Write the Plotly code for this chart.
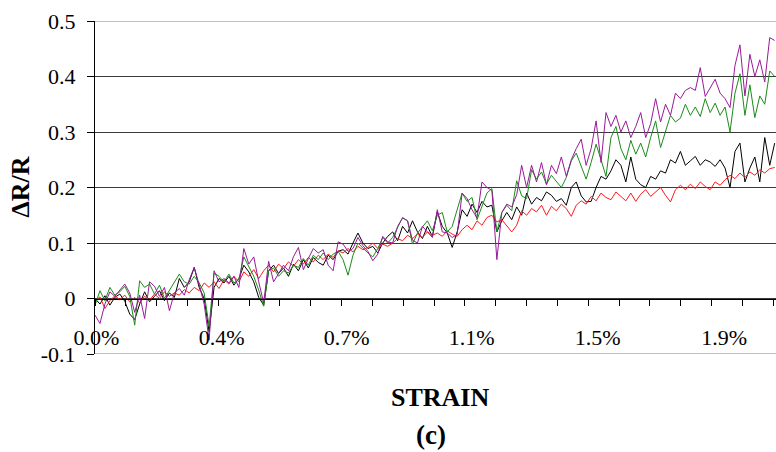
import plotly.graph_objects as go

# strain (%), one reading every 0.015 %
STEP = 0.015
N_PTS = 138
strain = [round(STEP * i, 4) for i in range(N_PTS)]

black = [0.0, -0.01, 0.005, -0.012, 0.002, 0.008, -0.005, -0.028, -0.038, -0.01,
         0.012, -0.006, 0.004, 0.014, -0.004, 0.01, 0.002, 0.036, 0.02, 0.03,
         0.056, 0.02, 0.0, -0.06, 0.02, 0.036, 0.028, 0.04, 0.024, 0.036,
         0.06, 0.048, 0.03, 0.002, -0.012, 0.05, 0.06, 0.045, 0.055, 0.04,
         0.062, 0.05, 0.07, 0.055, 0.074, 0.065, 0.06, 0.078, 0.07, 0.085,
         0.088, 0.08, 0.1, 0.118, 0.1, 0.09, 0.094, 0.082, 0.1, 0.112,
         0.12, 0.104, 0.13, 0.118, 0.14, 0.12, 0.108, 0.13, 0.112, 0.156,
         0.13, 0.118, 0.092, 0.12, 0.16, 0.148, 0.17, 0.155, 0.175, 0.165,
         0.168, 0.12, 0.14, 0.155, 0.142, 0.165, 0.15, 0.19, 0.17, 0.182,
         0.176, 0.192, 0.186, 0.175, 0.18, 0.168, 0.2, 0.21, 0.185, 0.174,
         0.175, 0.2, 0.22, 0.215, 0.23, 0.25, 0.24, 0.21, 0.255, 0.215,
         0.205, 0.2, 0.22, 0.215, 0.23, 0.226, 0.25, 0.244, 0.265, 0.24,
         0.248, 0.256, 0.24, 0.25, 0.246, 0.238, 0.25, 0.235, 0.2, 0.265,
         0.28, 0.21, 0.235, 0.255, 0.21, 0.29, 0.24, 0.28]

red = [-0.005, 0.003, -0.018, -0.004, 0.005, -0.002, 0.006, -0.006, 0.002, -0.008,
       0.004, -0.003, 0.008, 0.0, 0.012, 0.004, 0.01, 0.006, 0.016, 0.01,
       0.02, 0.014, 0.028, 0.02, 0.03, 0.018, 0.034, 0.026, 0.04, 0.03,
       0.048, 0.04, 0.052, 0.036, 0.05, 0.06, 0.048, 0.062, 0.054, 0.066,
       0.058, 0.07, 0.062, 0.074, 0.066, 0.078, 0.07, 0.08, 0.074, 0.086,
       0.082, 0.09, 0.084, 0.094, 0.088, 0.092, 0.1, 0.09, 0.098, 0.094,
       0.1, 0.108, 0.104, 0.114, 0.108, 0.116, 0.11, 0.12, 0.114, 0.118,
       0.112, 0.122, 0.116, 0.112, 0.124, 0.132, 0.124, 0.14, 0.132, 0.146,
       0.15, 0.138, 0.142, 0.13, 0.12, 0.132, 0.158, 0.15, 0.162, 0.156,
       0.168, 0.15, 0.166, 0.158, 0.17, 0.162, 0.148, 0.168, 0.176, 0.17,
       0.184, 0.176, 0.19, 0.182, 0.178, 0.192, 0.184, 0.176, 0.19, 0.175,
       0.188, 0.196, 0.184, 0.192, 0.2, 0.186, 0.174, 0.196, 0.204, 0.196,
       0.206, 0.198, 0.21, 0.202, 0.196, 0.21, 0.204, 0.214, 0.222, 0.216,
       0.226, 0.218, 0.228, 0.222, 0.232, 0.226, 0.234, 0.236]

green = [-0.012, 0.014, -0.004, 0.02, 0.006, 0.012, 0.022, 0.004, -0.048, 0.032,
         0.02, 0.026, 0.008, 0.024, 0.0, 0.014, 0.028, 0.044, 0.03, 0.026,
         0.04, 0.028, 0.01, -0.05, 0.046, 0.04, 0.03, 0.044, 0.028, 0.034,
         0.075, 0.056, 0.04, 0.015, -0.014, 0.05, 0.055, 0.04, 0.05, 0.046,
         0.06, 0.056, 0.072, 0.06, 0.078, 0.07, 0.082, 0.07, 0.08, 0.085,
         0.07, 0.042, 0.078, 0.1, 0.09, 0.082, 0.075, 0.09, 0.11, 0.1,
         0.11, 0.128, 0.146, 0.14, 0.098, 0.118, 0.13, 0.14, 0.122, 0.15,
         0.155, 0.12, 0.13, 0.16, 0.19, 0.175, 0.182, 0.142, 0.165, 0.19,
         0.198, 0.12, 0.155, 0.168, 0.158, 0.212, 0.185, 0.18, 0.232, 0.215,
         0.228, 0.206, 0.222, 0.21, 0.2, 0.218, 0.248, 0.262, 0.238, 0.215,
         0.245, 0.278, 0.25, 0.22, 0.29, 0.31, 0.27, 0.25, 0.285, 0.26,
         0.28, 0.255, 0.29, 0.32, 0.272, 0.3, 0.33, 0.318, 0.325, 0.35,
         0.33, 0.345, 0.328, 0.36, 0.335, 0.352, 0.33, 0.345, 0.3, 0.37,
         0.405, 0.33, 0.385, 0.326, 0.365, 0.35, 0.41, 0.4]

purple = [-0.03, -0.045, -0.01, 0.012, 0.004, 0.016, 0.026, 0.01, -0.025, 0.006,
          -0.036, 0.03, 0.022, 0.004, 0.02, -0.022, 0.01, 0.018, 0.006, 0.034,
          0.056, 0.025, -0.01, -0.075, 0.05, 0.03, 0.036, 0.028, 0.04, 0.02,
          0.09, 0.062, 0.075, 0.03, -0.008, 0.067, 0.03, 0.045, 0.06, 0.05,
          0.075, 0.092, 0.052, 0.072, 0.09, 0.082, 0.088, 0.06, 0.05, 0.102,
          0.098, 0.085, 0.09, 0.11, 0.095, 0.085, 0.068, 0.08, 0.112, 0.102,
          0.1, 0.13, 0.145, 0.14, 0.105, 0.1, 0.13, 0.12, 0.11, 0.16,
          0.12, 0.118, 0.11, 0.115, 0.19, 0.18, 0.16, 0.145, 0.21, 0.2,
          0.195, 0.07, 0.155, 0.17, 0.165, 0.187, 0.24, 0.2, 0.24, 0.21,
          0.245, 0.205, 0.24, 0.225, 0.255, 0.22, 0.25, 0.27, 0.287, 0.24,
          0.27, 0.32, 0.245, 0.335, 0.31, 0.33, 0.3, 0.32, 0.29, 0.31,
          0.335, 0.29, 0.315, 0.36, 0.318, 0.35, 0.33, 0.37, 0.36, 0.375,
          0.38, 0.375, 0.416, 0.364, 0.38, 0.395, 0.37, 0.36, 0.344, 0.42,
          0.457, 0.365, 0.44, 0.4, 0.43, 0.39, 0.47, 0.465]

x_tick_text = ["0.0%", "0.4%", "0.7%", "1.1%", "1.5%", "1.9%"]
x_tick_pos = [0.0045, 0.383, 0.761, 1.139, 1.520, 1.902]
y_tick_vals = [-0.1, 0.0, 0.1, 0.2, 0.3, 0.4, 0.5]
y_tick_text = ["-0.1", "0", "0.1", "0.2", "0.3", "0.4", "0.5"]

FONT = "Liberation Serif, Times New Roman, serif"

fig = go.Figure()
for vals, col in [(black, "#000000"), (red, "#ff1a1a"), (green, "#1a8c1a"), (purple, "#991a99")]:
    fig.add_trace(go.Scatter(x=strain, y=vals, mode="lines",
                             line=dict(color=col, width=1), showlegend=False))

fig.update_layout(
    width=776, height=452,
    margin=dict(l=95, r=0, t=21, b=98),
    paper_bgcolor="white", plot_bgcolor="white",
    font=dict(family=FONT, size=22, color="black"),
    xaxis=dict(
        range=[0, 2.059], anchor="free", position=1/6,
        showline=True, linecolor="black", linewidth=1,
        showgrid=False, zeroline=False,
        tickmode="array", tickvals=x_tick_pos, ticktext=x_tick_text,
        ticks="", ticklabelstandoff=19,
        minor=dict(tick0=0, dtick=0.0932, ticks="outside", ticklen=6,
                   tickcolor="black", showgrid=False),
        tickfont=dict(family=FONT, size=22),
    ),
    yaxis=dict(
        range=[-0.1, 0.5],
        showline=True, linecolor="black", linewidth=1,
        showgrid=True, gridcolor="#3a3a3a", gridwidth=1,
        zeroline=False,
        tickmode="array", tickvals=y_tick_vals, ticktext=y_tick_text,
        ticks="outside", ticklen=7, tickcolor="black",
        ticklabelstandoff=7,
        tickfont=dict(family=FONT, size=22),
    ),
    shapes=[
        dict(type="line", xref="paper", yref="y", x0=0, x1=1, y0=0.5, y1=0.5,
             line=dict(color="#a8a8a8", width=1.5), layer="below"),
        dict(type="line", xref="paper", yref="y", x0=0, x1=1, y0=-0.1, y1=-0.1,
             line=dict(color="#a8a8a8", width=1.5), layer="below"),
    ],
    annotations=[
        dict(text="<b>ΔR/R</b>", xref="paper", yref="paper", x=-0.110, y=0.5,
             xanchor="center", yanchor="middle", textangle=-90, showarrow=False,
             font=dict(family=FONT, size=26)),
        dict(text="<b>STRAIN</b>", xref="paper", yref="paper", x=0.506, y=-0.132,
             xanchor="center", yanchor="middle", showarrow=False,
             font=dict(family=FONT, size=26)),
        dict(text="<b>(c)</b>", xref="paper", yref="paper", x=0.4934, y=-0.244,
             xanchor="center", yanchor="middle", showarrow=False,
             font=dict(family=FONT, size=27)),
    ],
)

fig.write_html("out.html")
